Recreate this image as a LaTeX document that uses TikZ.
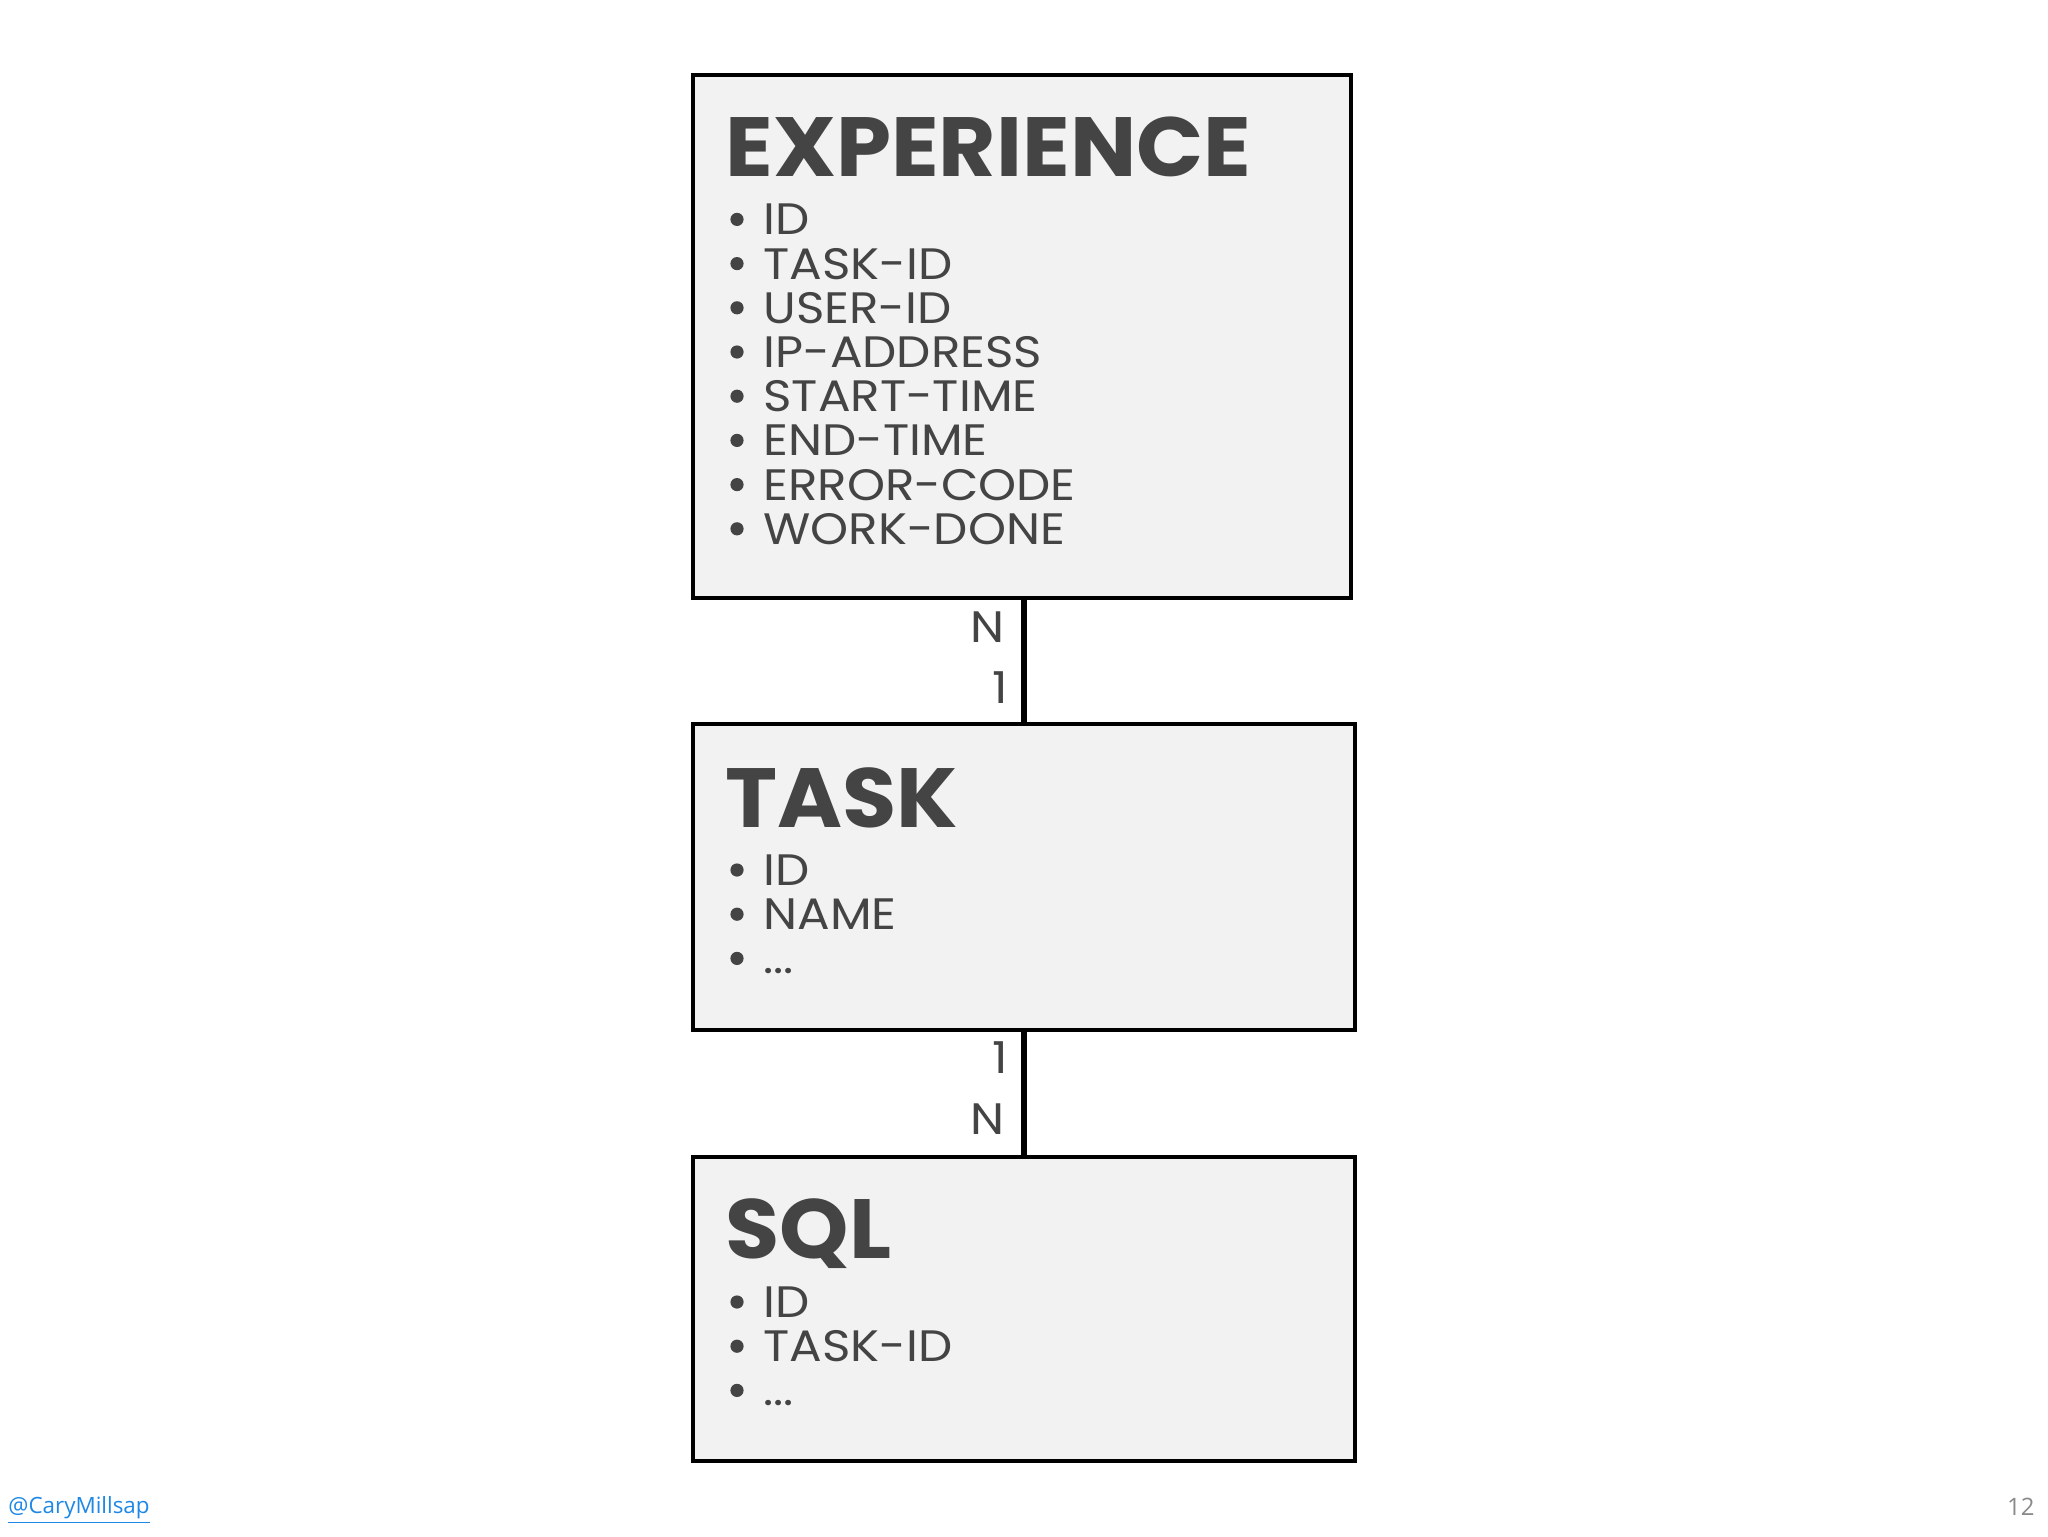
\documentclass[tikz,border=0pt]{standalone}
\usepackage{fontspec}
\setmainfont{Poppins}
\newfontfamily\hand[FakeStretch=1.1]{Poppins}
\newfontfamily\handt[FakeStretch=1.05]{Poppins}
\newfontfamily\foot{Open Sans}
\definecolor{ink}{HTML}{444444}
\definecolor{boxfill}{HTML}{F2F2F2}
\definecolor{link}{HTML}{1E88E5}
\definecolor{pagenum}{HTML}{8A8A8A}
\newcommand\myellip{...}
\begin{document}
\begin{tikzpicture}[x=0.5pt,y=-0.5pt,
  entity/.style={draw=black, fill=boxfill, line width=2.1pt, anchor=north west, inner sep=0pt},
  ttl/.style={anchor=west, inner sep=0pt, text=ink, font=\handt\bfseries\fontsize{42}{42}\selectfont, text height=30pt, text depth=0pt},
  item/.style={anchor=west, inner sep=0pt, text=ink, font=\hand\fontsize{22}{22}\selectfont, text height=15.5pt, text depth=0pt},
  bul/.style={circle, fill=ink, inner sep=0pt, minimum size=6.6pt},
  card/.style={inner sep=0pt, text=ink, font=\hand\fontsize{22}{22}\selectfont, text height=15.5pt, text depth=0pt, anchor=east},
  conn/.style={line width=3pt, draw=black}]
\useasboundingbox[fill=white] (0,0) rectangle (2048,1536);

% boxes
\node[entity, minimum width=329pt, minimum height=261.5pt] (exp) at (691,73) {};
\node[entity, minimum width=331pt, minimum height=153pt] (task) at (691,722) {};
\node[entity, minimum width=331pt, minimum height=152pt] (sql) at (691,1155) {};

% titles
\node[ttl] (exp-t) at (725,146) {EXPERIENCE};
\node[ttl] (task-t) at (725,797) {TASK};
\node[ttl] (sql-t) at (725,1228) {SQL};

% experience items
\foreach \t [count=\i from 0] in {ID,TASK-ID,USER-ID,IP-ADDRESS,START-TIME,END-TIME,ERROR-CODE,WORK-DONE}{
  \node[bul] (exp-b\i) at (737,219.4+44.2*\i) {};
  \node[item] (exp-i\i) at (763,219.4+44.2*\i) {\t};
}
% task items
\foreach \t [count=\i from 0] in {ID,NAME,\myellip}{
  \node[bul] (task-b\i) at (737,870+44.2*\i) {};
  \node[item] (task-i\i) at (763,870+44.2*\i) {\t};
}
% sql items
\foreach \t [count=\i from 0] in {ID,TASK-ID,\myellip}{
  \node[bul] (sql-b\i) at (737,1302+44.2*\i) {};
  \node[item] (sql-i\i) at (763,1302+44.2*\i) {\t};
}

% connectors
\coordinate (cx) at (1024,0);
\draw[conn] (exp.south -| cx) -- (task.north -| cx);
\draw[conn] (task.south -| cx) -- (sql.north -| cx);

% cardinalities
\node[card] (c1n) at (1005,627) {N};
\node[card] (c11) at (1008,688) {1};
\node[card] (c21) at (1008,1058) {1};
\node[card] (c2n) at (1005,1119) {N};

% footer
\node[anchor=west, inner sep=0pt, text=link, font=\foot\fontsize{11.2}{11.2}\selectfont] (handle) at (8,1510) {\underline{@CaryMillsap}};
\node[anchor=east, inner sep=0pt, text=pagenum, font=\foot\fontsize{12}{12}\selectfont] (pnum) at (2035,1507) {12};
\end{tikzpicture}
\end{document}
